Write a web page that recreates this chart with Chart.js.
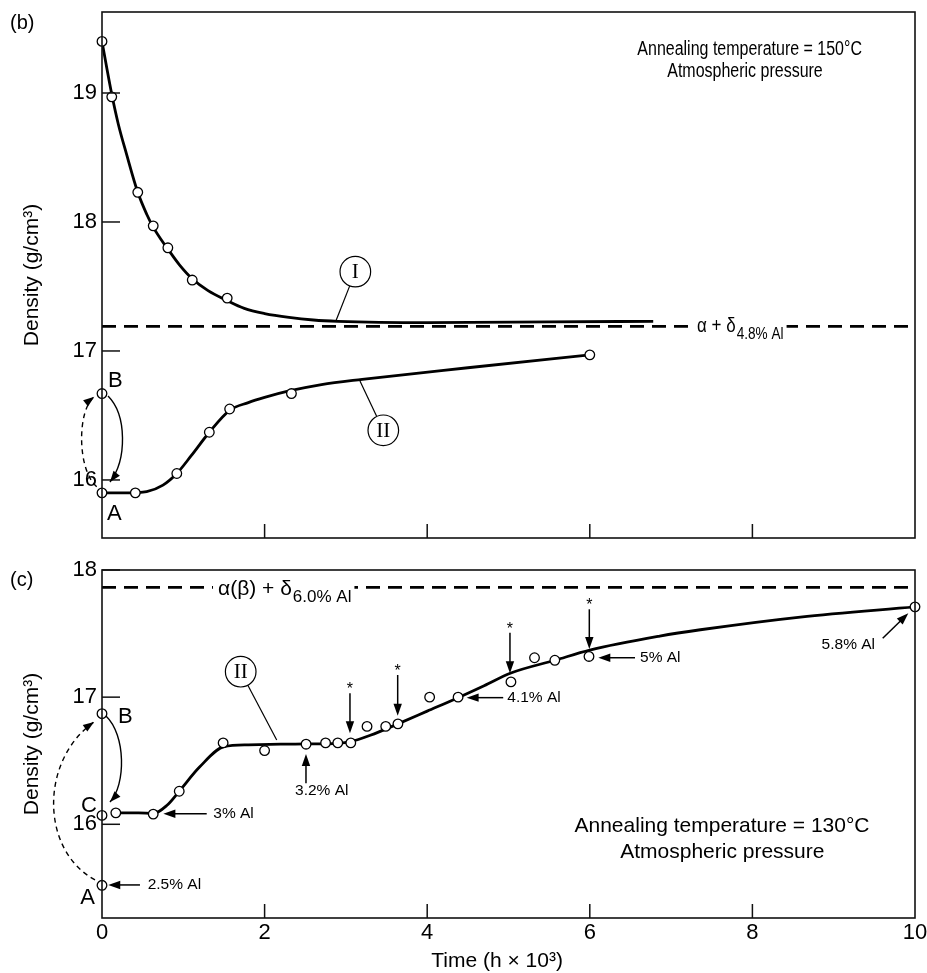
<!DOCTYPE html>
<html><head><meta charset="utf-8">
<script src="https://cdn.jsdelivr.net/npm/chart.js@4.4.1/dist/chart.umd.min.js"></script>
<style>
html,body{margin:0;padding:0;background:#fff;}
body{width:927px;height:973px;position:relative;overflow:hidden;}
#wrapB{position:absolute;left:0;top:0;width:927px;height:556px;}
#wrapC{position:absolute;left:0;top:556px;width:927px;height:417px;}
canvas{display:block;}
</style></head><body>
<div id="wrapB"><canvas id="cb" width="927" height="556"></canvas></div>
<div id="wrapC"><canvas id="cc" width="927" height="417"></canvas></div>
<script>
// ================= DATA =================
// Panel (b): annealing at 150 °C
const curveI_x   = [0, 0.06, 0.12, 0.20, 0.30, 0.44, 0.55, 0.63, 0.72, 0.81, 0.95, 1.11, 1.30, 1.54, 1.75, 2.00, 2.30, 2.60, 2.90, 4.00, 5.50, 6.78];
const curveI_y   = [19.40, 19.19, 18.99, 18.76, 18.53, 18.23, 18.06, 17.96, 17.87, 17.79, 17.67, 17.56, 17.47, 17.39, 17.33, 17.29, 17.26, 17.24, 17.23, 17.22, 17.225, 17.23];
const pointsI_x  = [0, 0.12, 0.44, 0.63, 0.81, 1.11, 1.54];
const pointsI_y  = [19.40, 18.97, 18.23, 17.97, 17.80, 17.55, 17.41];
const curveIIb_x = [0, 0.30, 0.55, 0.75, 0.92, 1.10, 1.32, 1.57, 1.80, 2.00, 2.30, 2.70, 3.20, 4.50, 6.00];
const curveIIb_y = [15.90, 15.90, 15.91, 15.96, 16.05, 16.19, 16.37, 16.54, 16.60, 16.64, 16.69, 16.74, 16.78, 16.87, 16.97];
const pointsIIb_x = [0, 0, 0.41, 0.92, 1.32, 1.57, 2.33, 6.00];
const pointsIIb_y = [16.67, 15.90, 15.90, 16.05, 16.37, 16.55, 16.67, 16.97];
const phaseB = 17.19;           // alpha + delta (4.8% Al)
const yTicksB = [16, 17, 18, 19];

// Panel (c): annealing at 130 °C
const curveIIc_x = [0.17, 0.45, 0.63, 0.80, 0.95, 1.20, 1.50, 1.80, 2.20, 2.51, 2.90, 3.06, 3.30, 3.64, 4.00, 4.38, 4.70, 5.03, 5.57, 6.00, 6.86, 7.36, 8.59, 10.00];
const curveIIc_y = [16.09, 16.09, 16.085, 16.15, 16.26, 16.45, 16.61, 16.625, 16.63, 16.632, 16.637, 16.65, 16.70, 16.79, 16.89, 16.996, 17.09, 17.19, 17.29, 17.37, 17.48, 17.53, 17.63, 17.71];
const pointsIIc_x = [0, 0, 0, 0.17, 0.63, 0.95, 1.49, 2.00, 2.51, 2.75, 2.90, 3.06, 3.26, 3.49, 3.64, 4.03, 4.38, 5.03, 5.32, 5.57, 5.99, 10.00];
const pointsIIc_y = [16.87, 16.07, 15.52, 16.09, 16.08, 16.26, 16.64, 16.58, 16.63, 16.64, 16.64, 16.64, 16.77, 16.77, 16.79, 17.00, 17.00, 17.12, 17.31, 17.29, 17.32, 17.71];
const phaseC = 17.864;          // alpha(beta) + delta (6.0% Al)
const yTicksC = [16, 17, 18];

const xTicks = [0, 2, 4, 6, 8, 10];
const xTicksInner = [2, 4, 6, 8];

// composition callouts (panel c)
const compLabels = ['2.5% Al', '3% Al', '3.2% Al', '4.1% Al', '5% Al', '5.8% Al'];
const starArrowX = [3.05, 3.637, 5.018, 5.994];

// ================= HELPERS =================
const SANS = '"Liberation Sans", Arial, Helvetica, sans-serif';
const SERIF = '"Liberation Serif", "Times New Roman", serif';
Chart.defaults.font.family = SANS;
Chart.defaults.color = '#000';

const pts = (xs, ys) => xs.map((x, i) => ({x: x, y: ys[i]}));

function txt(ctx, s, x, y, size, o) {
  o = o || {};
  ctx.save();
  ctx.font = size + 'px ' + (o.family || SANS);
  ctx.fillStyle = '#000';
  ctx.textAlign = o.align || 'left';
  ctx.textBaseline = o.baseline || 'alphabetic';
  ctx.translate(x, y);
  ctx.scale(o.sx || 1, 1);
  ctx.fillText(s, 0, 0);
  ctx.restore();
}
function tw(ctx, s, size, sx, family) {
  ctx.save(); ctx.font = size + 'px ' + (family || SANS);
  const w = ctx.measureText(s).width * (sx || 1); ctx.restore(); return w;
}
function head(ctx, x, y, ang, hl, hw) {
  const c = Math.cos(ang), s = Math.sin(ang);
  ctx.beginPath();
  ctx.moveTo(x, y);
  ctx.lineTo(x - c * hl + s * hw, y - s * hl - c * hw);
  ctx.lineTo(x - c * hl - s * hw, y - s * hl + c * hw);
  ctx.closePath(); ctx.fillStyle = '#000'; ctx.fill();
}
function arrow(ctx, x1, y1, x2, y2) {
  const ang = Math.atan2(y2 - y1, x2 - x1), hl = 12;
  ctx.beginPath(); ctx.moveTo(x1, y1);
  ctx.lineTo(x2 - Math.cos(ang) * hl * 0.8, y2 - Math.sin(ang) * hl * 0.8);
  ctx.lineWidth = 1.5; ctx.strokeStyle = '#000'; ctx.setLineDash([]); ctx.stroke();
  head(ctx, x2, y2, ang, hl, 4.2);
}
function bez(ctx, p, dashed) {
  ctx.save();
  ctx.lineWidth = 1.4; ctx.strokeStyle = '#000';
  ctx.setLineDash(dashed ? [5, 4] : []);
  ctx.beginPath(); ctx.moveTo(p[0][0], p[0][1]);
  ctx.bezierCurveTo(p[1][0], p[1][1], p[2][0], p[2][1], p[3][0], p[3][1]);
  ctx.stroke(); ctx.setLineDash([]);
  head(ctx, p[3][0], p[3][1], Math.atan2(p[3][1] - p[2][1], p[3][0] - p[2][0]), 11, 4);
  ctx.restore();
}
function circLabel(ctx, cx, cy, s, tx, ty) {
  const r = 15.3;
  ctx.save();
  ctx.lineWidth = 1.2; ctx.strokeStyle = '#000';
  const dx = tx - cx, dy = ty - cy, d = Math.hypot(dx, dy);
  ctx.beginPath(); ctx.moveTo(cx + dx / d * r, cy + dy / d * r); ctx.lineTo(tx, ty); ctx.stroke();
  ctx.beginPath(); ctx.arc(cx, cy, r, 0, 2 * Math.PI); ctx.fillStyle = '#fff'; ctx.fill(); ctx.stroke();
  ctx.restore();
  txt(ctx, s, cx, cy + 1, 21, {family: SERIF, align: 'center', baseline: 'middle'});
}
function frame(chart, yt) {
  const ctx = chart.ctx, a = chart.chartArea;
  const X = v => chart.scales.x.getPixelForValue(v), Y = v => chart.scales.y.getPixelForValue(v);
  ctx.save();
  ctx.strokeStyle = '#111'; ctx.lineWidth = 1.6; ctx.setLineDash([]);
  ctx.strokeRect(a.left, a.top, a.right - a.left, a.bottom - a.top);
  ctx.lineWidth = 1.5;
  yt.forEach(v => { const y = Y(v); ctx.beginPath(); ctx.moveTo(a.left, y); ctx.lineTo(a.left + 18, y); ctx.stroke(); });
  xTicksInner.forEach(v => { const x = X(v); ctx.beginPath(); ctx.moveTo(x, a.bottom); ctx.lineTo(x, a.bottom - 14); ctx.stroke(); });
  ctx.restore();
}
function phaseLabel(chart, xv, baseV, lineV, main, sub, s1, s2, sx) {
  const ctx = chart.ctx;
  const X = v => chart.scales.x.getPixelForValue(v), Y = v => chart.scales.y.getPixelForValue(v);
  const x = X(xv), yb = Y(baseV), yl = Y(lineV);
  const w1 = tw(ctx, main, s1, sx), w2 = tw(ctx, sub, s2, sx);
  ctx.save(); ctx.fillStyle = '#fff';
  ctx.fillRect(x - 5, yl - 3, w1 + w2 + 9, 6);
  ctx.restore();
  txt(ctx, main, x, yb, s1, {sx: sx});
  txt(ctx, sub, x + w1 + 1, yb + 7, s2, {sx: sx});
}

// ================= PANEL PLUGINS =================
const panelBPlugin = {
  id: 'panelB',
  afterDraw(chart) {
    const ctx = chart.ctx;
    const X = v => chart.scales.x.getPixelForValue(v), Y = v => chart.scales.y.getPixelForValue(v);
    frame(chart, yTicksB);
    txt(ctx, '(b)', 10, 29, 20);
    txt(ctx, 'Annealing temperature = 150°C', X(7.966), Y(19.295), 19.5, {align: 'center', sx: 0.82});
    txt(ctx, 'Atmospheric pressure', X(7.909), Y(19.124), 19.5, {align: 'center', sx: 0.82});
    phaseLabel(chart, 7.319, 17.147, phaseB, 'α + δ', '4.8% Al', 20, 16, 0.85);
    circLabel(ctx, X(3.116), Y(17.615), 'I', X(2.878), Y(17.235));
    circLabel(ctx, X(3.46), Y(16.385), 'II', X(3.173), Y(16.767));
    bez(ctx, [[X(0.074), Y(16.651)], [X(0.3075), Y(16.504)], [X(0.3075), Y(16.155)], [X(0.098), Y(15.984)]], false);
    bez(ctx, [[X(-0.065), Y(15.948)], [X(-0.3075), Y(16.078)], [X(-0.3075), Y(16.543)], [X(-0.095), Y(16.646)]], true);
    txt(ctx, 'B', X(0.074), Y(16.721), 22);
    txt(ctx, 'A', X(0.06), Y(15.69), 22);
  }
};

const compArrows = [
  {from: [0.467, 15.523], to: [0.077, 15.523], at: [0.562, 15.523], align: 'left'},
  {from: [1.288, 16.083], to: [0.755, 16.083], at: [1.369, 16.083], align: 'left'},
  {from: [2.509, 16.322], to: [2.509, 16.553], at: [2.374, 16.263], align: 'left'},
  {from: [4.935, 16.996], to: [4.485, 16.996], at: [4.985, 16.996], align: 'left'},
  {from: [6.556, 17.310], to: [6.105, 17.310], at: [6.618, 17.310], align: 'left'},
  {from: [9.603, 17.463], to: [9.918, 17.660], at: [9.508, 17.410], align: 'right'}
];
const starTail = [17.030, 17.174, 17.507, 17.691];
const starTip  = [16.716, 16.854, 17.188, 17.379];

const panelCPlugin = {
  id: 'panelC',
  afterDraw(chart) {
    const ctx = chart.ctx, a = chart.chartArea;
    const X = v => chart.scales.x.getPixelForValue(v), Y = v => chart.scales.y.getPixelForValue(v);
    frame(chart, yTicksC);
    txt(ctx, '(c)', 10, 30, 20);
    txt(ctx, 'Annealing temperature = 130°C', X(7.626), Y(15.942), 21, {align: 'center'});
    txt(ctx, 'Atmospheric pressure', X(7.63), Y(15.733), 21, {align: 'center'});
    phaseLabel(chart, 1.427, 17.803, phaseC, 'α(β) + δ', '6.0% Al', 21, 17, 1);
    circLabel(ctx, X(1.706), Y(17.200), 'II', X(2.149), Y(16.663));
    compArrows.forEach((c, i) => {
      arrow(ctx, X(c.from[0]), Y(c.from[1]), X(c.to[0]), Y(c.to[1]));
      txt(ctx, compLabels[i], X(c.at[0]), Y(c.at[1]), 15.5, {align: c.align, baseline: 'middle'});
    });
    starArrowX.forEach((x, i) => {
      arrow(ctx, X(x), Y(starTail[i]), X(x), Y(starTip[i]));
      txt(ctx, '*', X(x), Y(starTail[i]) - 3.3, 16, {align: 'center', baseline: 'middle'});
    });
    bez(ctx, [[X(0.049), Y(16.852)], [X(0.295), Y(16.702)], [X(0.295), Y(16.309)], [X(0.098), Y(16.175)]], false);
    bez(ctx, [[X(-0.086), Y(15.562)], [X(-0.763), Y(15.798)], [X(-0.763), Y(16.506)], [X(-0.098), Y(16.805)]], true);
    txt(ctx, 'B', X(0.197), Y(16.797), 22);
    txt(ctx, 'C', X(-0.0615), Y(16.097), 22, {align: 'right'});
    txt(ctx, 'A', X(-0.086), Y(15.373), 22, {align: 'right'});
    txt(ctx, 'Time (h × 10³)', X(4.86), a.bottom + 49, 21, {align: 'center'});
  }
};

// ================= CHART FACTORY =================
function curveDS(data) {
  return {data: data, borderColor: '#000', borderWidth: 2.8, pointRadius: 0, fill: false,
          cubicInterpolationMode: 'monotone', order: 1};
}
function pointDS(data) {
  return {data: data, showLine: false, pointRadius: 4.8, pointBorderWidth: 1.3, pointStyle: 'circle',
          pointBackgroundColor: '#fff', pointBorderColor: '#000', borderColor: '#000', clip: false, order: 0};
}
function dashDS(y) {
  return {data: [{x: 0, y: y}, {x: 10, y: y}], borderColor: '#000', borderWidth: 2.8, borderDash: [14, 8],
          pointRadius: 0, fill: false, order: 2};
}

function makeChart(canvas, o) {
  return new Chart(canvas, {
    type: 'line',
    data: {datasets: o.datasets},
    options: {
      responsive: false, animation: false, devicePixelRatio: 1, events: [],
      layout: {padding: o.padding},
      plugins: {legend: {display: false}, tooltip: {enabled: false}, title: {display: false}},
      scales: {
        x: {
          type: 'linear', min: 0, max: 10,
          grid: {display: false, drawTicks: false}, border: {display: false},
          ticks: {display: o.showX, padding: 2, font: {size: 22}, color: '#000', autoSkip: false, maxRotation: 0},
          afterBuildTicks: s => { s.ticks = xTicks.map(v => ({value: v})); },
          afterFit: s => { s.height = o.xHeight; s.paddingLeft = 0; s.paddingRight = 0; }
        },
        y: {
          type: 'linear', min: o.yMin, max: o.yMax,
          grid: {display: false, drawTicks: false}, border: {display: false},
          ticks: {padding: 5, font: {size: 22}, color: '#000', callback: v => String(v)},
          afterBuildTicks: s => { s.ticks = o.yTicks.map(v => ({value: v})); },
          afterFit: s => { s.width = 102; s.paddingTop = 0; s.paddingBottom = 0; },
          title: {display: true, text: 'Density (g/cm³)', font: {size: 21}, color: '#000', padding: {top: 20, bottom: 0}}
        }
      }
    },
    plugins: [o.plugin]
  });
}

makeChart(document.getElementById('cb'), {
  datasets: [
    pointDS(pts(pointsI_x, pointsI_y)),
    pointDS(pts(pointsIIb_x, pointsIIb_y)),
    curveDS(pts(curveI_x, curveI_y)),
    curveDS(pts(curveIIb_x, curveIIb_y)),
    dashDS(phaseB)
  ],
  padding: {left: 0, right: 12, top: 12, bottom: 18},
  showX: false, xHeight: 0,
  yMin: 15.55, yMax: 19.628, yTicks: yTicksB,
  plugin: panelBPlugin
});

makeChart(document.getElementById('cc'), {
  datasets: [
    pointDS(pts(pointsIIc_x, pointsIIc_y)),
    curveDS(pts(curveIIc_x, curveIIc_y)),
    dashDS(phaseC)
  ],
  padding: {left: 0, right: 12, top: 14, bottom: 0},
  showX: true, xHeight: 55,
  yMin: 15.263, yMax: 18, yTicks: yTicksC,
  plugin: panelCPlugin
});
</script>
</body></html>
